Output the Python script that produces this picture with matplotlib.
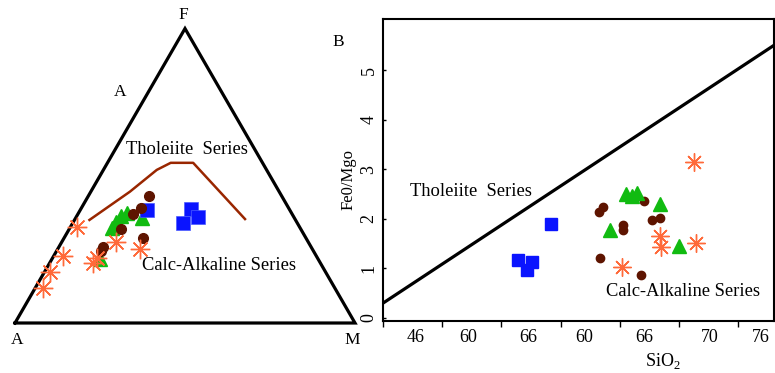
import numpy as np
import matplotlib.pyplot as plt

plt.rcParams['font.family'] = ['Liberation Serif', 'DejaVu Serif']
plt.rcParams['mathtext.fontset'] = 'custom'
plt.rcParams['mathtext.rm'] = 'Liberation Serif'

# --- AFM ternary data (percent F and M, A = 100 - F - M) ---
star_F = [32.7, 22.8, 17.4, 11.9, 20.5, 22.1, 27.6, 25.0]
star_M = [1.8, 2.8, 1.6, 2.4, 12.8, 13.1, 15.9, 24.3]
tri_F = [21.6, 32.2, 34.4, 36.3, 37.3, 35.6]
tri_M = [14.2, 12.4, 12.5, 12.9, 14.2, 19.5]
circ_F = [43.1, 39.0, 37.0, 31.8, 29.0, 25.9, 24.6]
circ_M = [17.9, 17.6, 16.1, 15.2, 23.0, 12.8, 12.9]
sq_F = [38.4, 38.8, 36.1, 34.1]
sq_M = [19.6, 32.4, 35.9, 32.5]
bound_F = [35.0, 44.6, 52.0, 54.4, 54.4, 35.3]
bound_M = [4.4, 11.5, 15.7, 18.6, 25.2, 50.0]

# --- FeO/MgO vs SiO2 data (x in tick-slot units) ---
xlabels = ['46', '60', '66', '60', '66', '70', '76']
xlabel_pos = [0.55, 1.44, 2.45, 3.40, 4.41, 5.51, 6.38]
sq_x = [2.83, 2.28, 2.52, 2.43]
sq_y = [1.89, 1.18, 1.12, 0.97]
circ_x = [3.65, 3.72, 4.40, 4.05, 4.05, 4.54, 4.68, 3.67, 4.35]
circ_y = [2.14, 2.23, 2.35, 1.88, 1.77, 1.98, 2.01, 1.22, 0.87]
tri_x = [4.11, 4.28, 4.21, 4.68, 3.84, 4.99]
tri_y = [2.50, 2.53, 2.46, 2.30, 1.77, 1.45]
star_x = [5.25, 4.68, 4.70, 5.29, 4.04]
star_y = [3.14, 1.65, 1.43, 1.52, 1.03]
line_x = [0.0, 6.6]
line_y = [0.30, 5.50]

BLUE = '#0a14ff'
BROWN = '#5e1400'
GREEN = '#11bb11'
ORANGE = '#ff6a3a'
LINEBROWN = '#992600'
star_marker = (8, 2, 0)


def afm_xy(F, M):
    F = np.asarray(F) / 100.0
    M = np.asarray(M) / 100.0
    return M + F / 2, F * np.sqrt(3) / 2


fig = plt.figure(figsize=(7.75, 3.73), dpi=100)

# ---------------- left: AFM triangle ----------------
ax1 = fig.add_axes([0, 0, 380 / 775, 1])
ax1.set_xlim(-15 / 340, 365 / 340)
ax1.set_ylim(-50 / 340, 323 / 340)
ax1.axis('off')

h = np.sqrt(3) / 2
ax1.plot([0, 1, 0.5, 0], [0, 0, h, 0], color='black', lw=2.3, solid_joinstyle='miter')

bx, by = afm_xy(bound_F, bound_M)
ax1.plot(bx, by, color=LINEBROWN, lw=1.8)

x, y = afm_xy(tri_F, tri_M)
ax1.plot(x, y, '^', color=GREEN, ms=10, ls='none')
x, y = afm_xy(sq_F, sq_M)
ax1.plot(x, y, 's', color=BLUE, ms=9.5, ls='none', mec='#4a5aff', mew=0.5)
x, y = afm_xy(circ_F, circ_M)
ax1.plot(x, y, 'o', color=BROWN, ms=7, ls='none')
x, y = afm_xy(star_F, star_M)
ax1.plot(x, y, marker=star_marker, color=ORANGE, ms=14, mew=1.0, ls='none')

ax1.text(0.494, 0.906, 'F', fontsize=12.5, ha='center', va='center')
ax1.text(0.309, 0.679, 'A', fontsize=12.5, ha='center', va='center')
ax1.text(0.006, -0.05, 'A', fontsize=12.5, ha='center', va='center')
ax1.text(0.991, -0.05, 'M', fontsize=12.5, ha='center', va='center')
ax1.text(0.95, 0.826, 'B', fontsize=12.5, ha='center', va='center')
ax1.text(0.507, 0.509, 'Tholeiite  Series', fontsize=13.3, ha='center', va='center')
ax1.text(0.60, 0.17, 'Calc-Alkaline Series', fontsize=13.3, ha='center', va='center')

# ---------------- right: FeO/MgO vs SiO2 ----------------
ax2 = fig.add_axes([383 / 775, 52 / 373, 391 / 775, 302 / 373])
ax2.set_xlim(0, 6.6)
ax2.set_ylim(-0.06, 6.03)
for s in ax2.spines.values():
    s.set_linewidth(1.5)

ax2.plot(line_x, line_y, color='black', lw=2.3)
ax2.plot(sq_x, sq_y, 's', color=BLUE, ms=9, ls='none')
ax2.plot(circ_x, circ_y, 'o', color=BROWN, ms=6, ls='none')
ax2.plot(tri_x, tri_y, '^', color=GREEN, ms=10, ls='none')
ax2.plot(star_x, star_y, marker=star_marker, color=ORANGE, ms=13, mew=1.0, ls='none')

ax2.set_xticks(range(7))
ax2.set_xticklabels([])
ax2.set_xticks(xlabel_pos, minor=True)
ax2.set_xticklabels(xlabels, minor=True, fontsize=13)
ax2.tick_params(axis='x', which='major', direction='out', length=4, width=1)
ax2.tick_params(axis='x', which='minor', length=0, pad=6)
ax2.set_yticks(range(6))
ax2.set_yticklabels([str(i) for i in range(6)], rotation=90, va='center', fontsize=13)
ax2.tick_params(axis='y', direction='in', length=2, width=1, pad=4)

ax2.text(1.49, 2.55, 'Tholeiite  Series', fontsize=13.3, ha='center', va='center')
ax2.text(5.06, 0.53, 'Calc-Alkaline Series', fontsize=13.3, ha='center', va='center')

fig.text(349 / 775, 1 - 179 / 373, 'Fe0/Mgo', rotation=90, fontsize=12,
         ha='center', va='center')
fig.text(663 / 775, 1 - 361 / 373, 'SiO$_{2}$', fontsize=13, ha='center', va='center')

fig.savefig('out.png', dpi=100)
